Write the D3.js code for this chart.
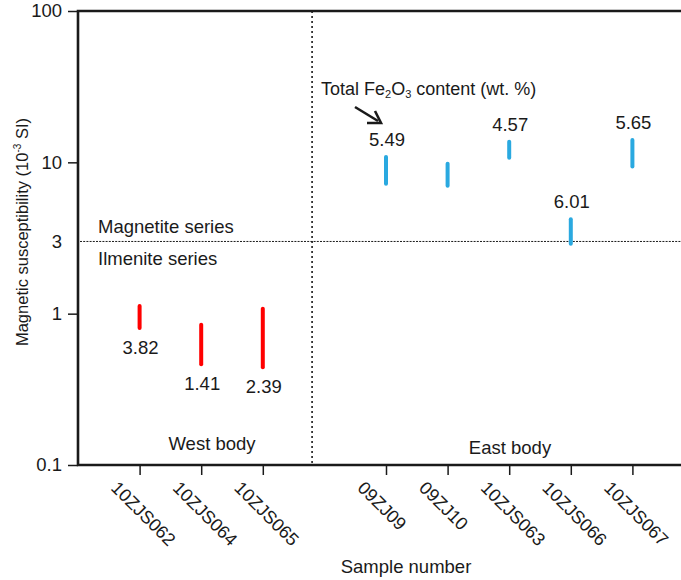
<!DOCTYPE html>
<html>
<head>
<meta charset="utf-8">
<script src="https://cdn.jsdelivr.net/npm/d3@7"></script>
<style>
  html, body { margin: 0; padding: 0; background: #fff; }
  svg { display: block; font-family: "Liberation Sans", Arial, Helvetica, sans-serif; }
</style>
</head>
<body>
<svg id="chart" width="681" height="580"></svg>
<script>
// ---- data ----
const westSamples = ["10ZJS062", "10ZJS064", "10ZJS065"];
const eastSamples = ["09ZJ09", "09ZJ10", "10ZJS063", "10ZJS066", "10ZJS067"];
const westLow  = [0.78, 0.45, 0.43];
const westHigh = [1.16, 0.87, 1.11];
const eastLow  = [7.0, 6.8, 10.4, 2.81, 9.1];
const eastHigh = [11.2, 10.1, 14.1, 4.33, 14.5];
const westFe = [3.82, 1.41, 2.39];
const eastFe = [5.49, null, 4.57, 6.01, 5.65];
const yTickValues = [0.1, 1, 3, 10, 100];
const seriesBoundary = 3;

// ---- layout ----
const svg = d3.select("#chart");
const plotLeft = 78, plotTop = 11, plotBottom = 465, slotW = 61.6;
const ink = "#1a1a1a";

const y = d3.scaleLog().domain([0.1, 100]).range([plotBottom, plotTop]);
const x = d3.scaleLinear().domain([0, 10]).range([plotLeft, plotLeft + 10 * slotW]);

const westSlot = i => i + 1;
const eastSlot = i => i + 5;
const dividerSlot = 3.8;

const allSlots = westSamples.map((d, i) => westSlot(i)).concat(eastSamples.map((d, i) => eastSlot(i)));
const slotName = new Map();
westSamples.forEach((d, i) => slotName.set(westSlot(i), d));
eastSamples.forEach((d, i) => slotName.set(eastSlot(i), d));

// reference lines
svg.append("line")
  .attr("x1", plotLeft + 2).attr("x2", 681)
  .attr("y1", y(seriesBoundary)).attr("y2", y(seriesBoundary))
  .attr("stroke", ink).attr("stroke-width", 1).attr("stroke-dasharray", "2,1.2");
svg.append("line")
  .attr("x1", x(dividerSlot)).attr("x2", x(dividerSlot))
  .attr("y1", plotTop).attr("y2", plotBottom)
  .attr("stroke", ink).attr("stroke-width", 1.6).attr("stroke-dasharray", "2,3");

// y axis
const yAxis = d3.axisLeft(y).tickValues(yTickValues).tickFormat(d3.format("~g")).tickSize(10).tickPadding(6);
const gy = svg.append("g").attr("transform", `translate(${plotLeft},0)`).call(yAxis);
gy.select(".domain").remove();
gy.selectAll(".tick line").attr("stroke", ink).attr("stroke-width", 1.5)
  .filter(d => d === seriesBoundary).remove();
gy.selectAll(".tick text").attr("fill", ink).attr("font-size", 18.5)
  .attr("font-family", "Liberation Sans, Arial, sans-serif");

// x axis
const xAxis = d3.axisBottom(x).tickValues(allSlots).tickFormat(d => slotName.get(d)).tickSize(10);
const gx = svg.append("g").attr("transform", `translate(0,${plotBottom})`).call(xAxis);
gx.select(".domain").remove();
gx.selectAll(".tick line").attr("stroke", ink).attr("stroke-width", 1.5);
gx.selectAll(".tick text")
  .attr("fill", ink).attr("font-size", 18)
  .attr("font-family", "Liberation Sans, Arial, sans-serif")
  .attr("text-anchor", "start")
  .attr("dy", null).attr("y", null)
  .attr("transform", "translate(-30,24) rotate(45)");

// frame lines (left, top, bottom)
svg.append("path")
  .attr("d", `M681,${plotTop} H${plotLeft} V${plotBottom} H681`)
  .attr("fill", "none").attr("stroke", ink).attr("stroke-width", 2.6);

// range bars
const west = westSamples.map((s, i) => ({ slot: westSlot(i), lo: westLow[i], hi: westHigh[i], fe: westFe[i] }));
const east = eastSamples.map((s, i) => ({ slot: eastSlot(i), lo: eastLow[i], hi: eastHigh[i], fe: eastFe[i] }));

svg.append("g").selectAll("line").data(west).join("line")
  .attr("x1", d => x(d.slot)).attr("x2", d => x(d.slot))
  .attr("y1", d => y(d.hi) + 2).attr("y2", d => y(d.lo) - 2)
  .attr("stroke", "#ff0000").attr("stroke-width", 4).attr("stroke-linecap", "round");
svg.append("g").selectAll("line").data(east).join("line")
  .attr("x1", d => x(d.slot)).attr("x2", d => x(d.slot))
  .attr("y1", d => y(d.hi) + 2).attr("y2", d => y(d.lo) - 2)
  .attr("stroke", "#2aa9e0").attr("stroke-width", 4).attr("stroke-linecap", "round");

// Fe2O3 labels
svg.append("g").selectAll("text").data(west).join("text")
  .attr("x", d => x(d.slot) + 1).attr("y", d => y(d.lo) + 24)
  .attr("text-anchor", "middle").attr("font-size", 18.5).attr("fill", ink)
  .text(d => d.fe.toFixed(2));
svg.append("g").selectAll("text").data(east.filter(d => d.fe != null)).join("text")
  .attr("x", d => x(d.slot) + 1).attr("y", d => y(d.hi) - 9)
  .attr("text-anchor", "middle").attr("font-size", 18.5).attr("fill", ink)
  .text(d => d.fe.toFixed(2));

// annotation
const ann = svg.append("text").attr("x", 321).attr("y", 95).attr("font-size", 18).attr("fill", ink);
ann.append("tspan").text("Total Fe");
ann.append("tspan").attr("font-size", 11).attr("dy", 3).text("2");
ann.append("tspan").attr("dy", -3).text("O");
ann.append("tspan").attr("font-size", 11).attr("dy", 3).text("3");
ann.append("tspan").attr("dy", -3).text(" content (wt. %)");

svg.append("line").attr("x1", 355).attr("y1", 107).attr("x2", 378).attr("y2", 121)
  .attr("stroke", ink).attr("stroke-width", 2.6);
svg.append("path").attr("d", "M367,123 L381,123 L375,111")
  .attr("fill", "none").attr("stroke", ink).attr("stroke-width", 2.6).attr("stroke-linejoin", "miter");

// series labels
svg.append("text").attr("x", 98).attr("y", 233).attr("font-size", 18.5).attr("fill", ink).text("Magnetite series");
svg.append("text").attr("x", 98).attr("y", 265).attr("font-size", 18.5).attr("fill", ink).text("Ilmenite series");

// body labels
svg.append("text").attr("x", 212).attr("y", 450).attr("text-anchor", "middle").attr("font-size", 18.5).attr("fill", ink).text("West body");
svg.append("text").attr("x", 510).attr("y", 454).attr("text-anchor", "middle").attr("font-size", 18.5).attr("fill", ink).text("East body");

// axis titles
svg.append("text").attr("x", 406).attr("y", 573).attr("text-anchor", "middle").attr("font-size", 18.5).attr("fill", ink).text("Sample number");
const yt = svg.append("text").attr("transform", "translate(28,232) rotate(-90)")
  .attr("text-anchor", "middle").attr("font-size", 16.5).attr("fill", ink);
yt.append("tspan").text("Magnetic susceptibility (10");
yt.append("tspan").attr("font-size", 10).attr("dy", -7).text("-3");
yt.append("tspan").attr("dy", 7).text(" SI)");
</script>
</body>
</html>
